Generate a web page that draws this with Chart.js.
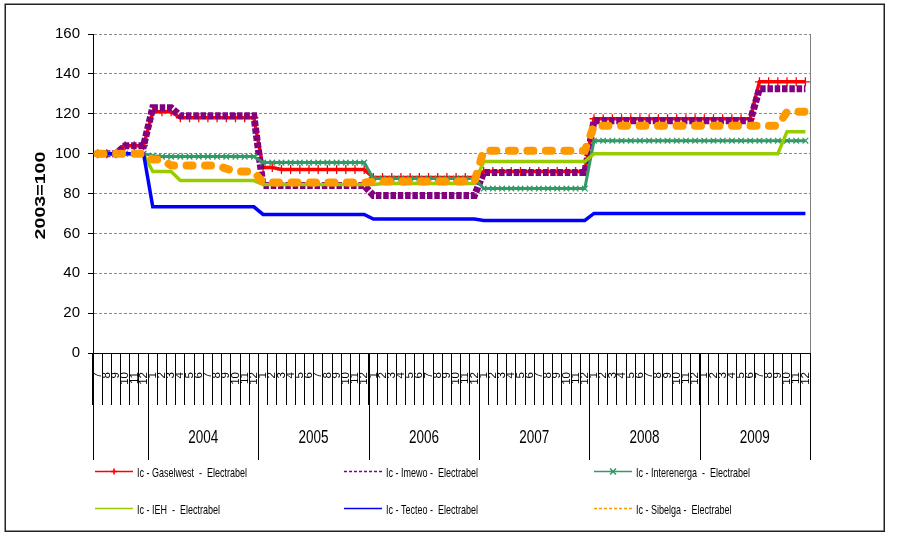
<!DOCTYPE html>
<html>
<head>
<meta charset="utf-8">
<script src="https://cdn.jsdelivr.net/npm/chart.js@4.4.1/dist/chart.umd.min.js"></script>
<style>
  html, body { margin: 0; padding: 0; background: #fff; }
  canvas { display: block; }
</style>
</head>
<body>
<canvas id="chart" width="899" height="542"></canvas>
<script>
// Month ticks: July 2003 through December 2009
const months = [
  '7','8','9','10','11','12',
  '1','2','3','4','5','6','7','8','9','10','11','12',
  '1','2','3','4','5','6','7','8','9','10','11','12',
  '1','2','3','4','5','6','7','8','9','10','11','12',
  '1','2','3','4','5','6','7','8','9','10','11','12',
  '1','2','3','4','5','6','7','8','9','10','11','12',
  '1','2','3','4','5','6','7','8','9','10','11','12'
];
const years = ['2004', '2005', '2006', '2007', '2008', '2009'];

// Index values (2003 = 100)
const gaselwest = [
  100,100,100,104,104,104,
  121,121,121,118,118,118,118,118,118,118,118,118,
  93,93,92,92,92,92,92,92,92,92,92,92,
  88,88,88,88,88,88,88,88,88,88,88,88,
  91,91,91,91,91,91,91,91,91,91,91,91,
  117.5,117.5,117.5,117.5,117.5,117.5,117.5,117.5,117.5,117.5,117.5,117.5,
  117.5,117.5,117.5,117.5,117.5,117.5,136,136,136,136,136,136
];
const imewo = [
  100,100,100,104,104,104,
  123,123,123,119,119,119,119,119,119,119,119,119,
  84,84,84,84,84,84,84,84,84,84,84,84,
  79,79,79,79,79,79,79,79,79,79,79,79,
  90.5,90.5,90.5,90.5,90.5,90.5,90.5,90.5,90.5,90.5,90.5,90.5,
  116.5,116.5,116.5,116.5,116.5,116.5,116.5,116.5,116.5,116.5,116.5,116.5,
  116.5,116.5,116.5,116.5,116.5,116.5,132.5,132.5,132.5,132.5,132.5,132.5
];
const interenerga = [
  100,100,100,100,100,100,
  99,98.5,98.5,98.5,98.5,98.5,98.5,98.5,98.5,98.5,98.5,98.5,
  95.5,95.5,95.5,95.5,95.5,95.5,95.5,95.5,95.5,95.5,95.5,95.5,
  87.5,87.5,87.5,87.5,87.5,87.5,87.5,87.5,87.5,87.5,87.5,87.5,
  82.5,82.5,82.5,82.5,82.5,82.5,82.5,82.5,82.5,82.5,82.5,82.5,
  106.5,106.5,106.5,106.5,106.5,106.5,106.5,106.5,106.5,106.5,106.5,106.5,
  106.5,106.5,106.5,106.5,106.5,106.5,106.5,106.5,106.5,106.5,106.5,106.5
];
const ieh = [
  100,100,100,100,100,100,
  91,91,91,86.5,86.5,86.5,86.5,86.5,86.5,86.5,86.5,86.5,
  84.5,84.5,84.5,84.5,84.5,84.5,84.5,84.5,84.5,84.5,84.5,84.5,
  84.5,85,85,85,85,85,85,85,85,85,85,85,
  96,96,96,96,96,96,96,96,96,96,96,96,
  100,100,100,100,100,100,100,100,100,100,100,100,
  100,100,100,100,100,100,100,100,100,111,111,111
];
const tecteo = [
  100,100,100,100,100,100,
  73.3,73.3,73.3,73.3,73.3,73.3,73.3,73.3,73.3,73.3,73.3,73.3,
  69.5,69.5,69.5,69.5,69.5,69.5,69.5,69.5,69.5,69.5,69.5,69.5,
  67.2,67.2,67.2,67.2,67.2,67.2,67.2,67.2,67.2,67.2,67.2,67.2,
  66.5,66.5,66.5,66.5,66.5,66.5,66.5,66.5,66.5,66.5,66.5,66.5,
  70,70,70,70,70,70,70,70,70,70,70,70,
  70,70,70,70,70,70,70,70,70,70,70,70
];
const sibelga = [
  100,100,100,100,100,100,
  97,97,94,94,94,94,94,94,92.5,91,91,91,
  85.5,85.5,85.5,85.5,85.5,85.5,85.5,85.5,85.5,85.5,85.5,85.5,
  86,86,86,86,86,86,86,86,86,86,86,86,
  101.5,101.5,101.5,101.5,101.5,101.5,101.5,101.5,101.5,101.5,101.5,101.5,
  114,114,114,114,114,114,114,114,114,114,114,114,
  114,114,114,114,114,114,114,114,114,121,121,121
];

const SANS = '"Liberation Sans", Arial, sans-serif';

const datasets = [
  { label: 'Ic - Gaselwest  -  Electrabel', data: gaselwest, borderColor: '#FF0000', borderWidth: 3.5,
    pointStyle: 'cross', pointRadius: 4.5, pointBorderColor: '#FF0000', pointBorderWidth: 1.3, order: 6,
    legendMarker: 'cross' },
  { label: 'Ic - Imewo -  Electrabel', data: imewo, borderColor: '#800080', borderWidth: 7,
    borderDash: [5.5, 1.8], pointRadius: 0, order: 5, legendDash: [3, 2] },
  { label: 'Ic - Interenerga  -  Electrabel', data: interenerga, borderColor: '#339966', borderWidth: 3,
    pointStyle: 'crossRot', pointRadius: 4, pointBorderColor: '#339966', pointBorderWidth: 1.3, order: 4,
    legendMarker: 'crossRot' },
  { label: 'Ic - IEH  -  Electrabel', data: ieh, borderColor: '#99CC00', borderWidth: 3.5,
    pointRadius: 0, order: 3 },
  { label: 'Ic - Tecteo -  Electrabel', data: tecteo, borderColor: '#0000FF', borderWidth: 3.5,
    pointRadius: 0, order: 2 },
  { label: 'Ic - Sibelga -  Electrabel', data: sibelga, borderColor: '#FF9900', borderWidth: 8,
    borderDash: [6, 12.5], borderCapStyle: 'round', pointRadius: 0, order: 1, legendDash: [3, 2] }
];
datasets.forEach(d => { d.fill = false; d.tension = 0; d.backgroundColor = d.borderColor; });

// Legend grid: three columns, two rows
const legendCols = [95, 344, 594];
const legendRows = [471, 508];

// text drawn taller than wide, like the rest of the sheet's lettering
function tallText(ctx, text, px, py, size, stretch, align, bold) {
  ctx.save();
  ctx.translate(px, py);
  ctx.scale(1, stretch);
  ctx.font = (bold ? 'bold ' : '') + size + 'px ' + SANS;
  ctx.textAlign = align;
  ctx.textBaseline = 'middle';
  ctx.fillStyle = '#000';
  ctx.fillText(text, 0, 0);
  ctx.restore();
}

const decorations = {
  id: 'decorations',
  beforeDraw(chart) {
    const ctx = chart.ctx;
    ctx.save();
    ctx.fillStyle = '#fff';
    ctx.fillRect(0, 0, chart.width, chart.height);
    ctx.restore();
  },
  afterDraw(chart) {
    const { ctx, chartArea: a, scales: { x } } = chart;
    ctx.save();

    // right edge of the plot area
    ctx.strokeStyle = '#808080';
    ctx.lineWidth = 1;
    ctx.beginPath();
    ctx.moveTo(Math.round(a.right) + 0.5, a.top);
    ctx.lineTo(Math.round(a.right) + 0.5, a.bottom);
    ctx.stroke();

    // year groups below the month ticks
    const n = months.length;
    const edge = i => i <= 0 ? a.left : (i >= n ? a.right : (x.getPixelForValue(i - 1) + x.getPixelForValue(i)) / 2);
    const starts = [];
    months.forEach((m, i) => { if (m === '1') starts.push(i); });
    const bounds = [0, ...starts, n];
    ctx.strokeStyle = '#000';
    ctx.lineWidth = 1;
    bounds.forEach(i => {
      const px = Math.round(edge(i)) + 0.5;
      ctx.beginPath();
      ctx.moveTo(px, a.bottom);
      ctx.lineTo(px, x.bottom);
      ctx.stroke();
    });
    starts.forEach((s, k) => {
      const e = k + 1 < starts.length ? starts[k + 1] : n;
      tallText(ctx, years[k], (edge(s) + edge(e)) / 2, x.bottom - 22, 13.5, 1.3, 'center', false);
    });

    // y axis title
    ctx.save();
    ctx.translate(41, (a.top + a.bottom) / 2 + 2);
    ctx.rotate(-Math.PI / 2);
    ctx.scale(1.4, 1);
    ctx.font = 'bold 14px ' + SANS;
    ctx.textAlign = 'center';
    ctx.textBaseline = 'middle';
    ctx.fillStyle = '#000';
    ctx.fillText('2003=100', 0, 0);
    ctx.restore();

    // legend
    chart.data.datasets.forEach((d, i) => {
      const lx = legendCols[i % 3];
      const ly = legendRows[Math.floor(i / 3)];
      ctx.save();
      ctx.strokeStyle = d.borderColor;
      ctx.lineWidth = 1.6;
      ctx.setLineDash(d.legendDash || []);
      ctx.beginPath();
      ctx.moveTo(lx, ly + 0.5);
      ctx.lineTo(lx + 38, ly + 0.5);
      ctx.stroke();
      ctx.setLineDash([]);
      const cx = lx + 19, cy = ly + 0.5, r = 3;
      if (d.legendMarker === 'cross') {
        ctx.beginPath();
        ctx.moveTo(cx, cy - r); ctx.lineTo(cx, cy + r);
        ctx.moveTo(cx - r, cy); ctx.lineTo(cx + r, cy);
        ctx.stroke();
      } else if (d.legendMarker === 'crossRot') {
        ctx.beginPath();
        ctx.moveTo(cx - r, cy - r); ctx.lineTo(cx + r, cy + r);
        ctx.moveTo(cx - r, cy + r); ctx.lineTo(cx + r, cy - r);
        ctx.stroke();
      }
      ctx.restore();
      tallText(ctx, d.label, lx + 42, ly + 3, 9, 1.4, 'left', false);
    });

    // outer frame
    ctx.strokeStyle = '#222';
    ctx.lineWidth = 1.5;
    ctx.strokeRect(5.25, 4.25, 879, 527);
    ctx.restore();
  }
};

new Chart(document.getElementById('chart'), {
  type: 'line',
  data: { labels: months, datasets },
  options: {
    responsive: false,
    animation: false,
    devicePixelRatio: 1,
    layout: { padding: { left: 0, right: 89, top: 34, bottom: 82 } },
    plugins: { legend: { display: false }, tooltip: { enabled: false } },
    scales: {
      x: {
        type: 'category',
        offset: true,
        grid: { display: true, offset: true, drawOnChartArea: false, drawTicks: true,
                tickLength: 52, color: '#000', tickColor: '#000', lineWidth: 1 },
        border: { display: true, color: '#000', width: 1 },
        ticks: { autoSkip: false, minRotation: 90, maxRotation: 90, padding: -33,
                 color: '#000', font: { family: SANS, size: 11.5 } },
        afterFit(scale) { scale.height = 107; }
      },
      y: {
        min: 0, max: 160,
        ticks: { stepSize: 20, padding: 8, color: '#000', font: { family: SANS, size: 15 } },
        grid: { color: '#8c8c8c', lineWidth: 1, tickLength: 5, tickColor: '#000', tickBorderDash: [] },
        border: { display: true, color: '#000', width: 1, dash: [3, 2] },
        afterFit(scale) { scale.width = 93; }
      }
    }
  },
  plugins: [decorations]
});
</script>
</body>
</html>
